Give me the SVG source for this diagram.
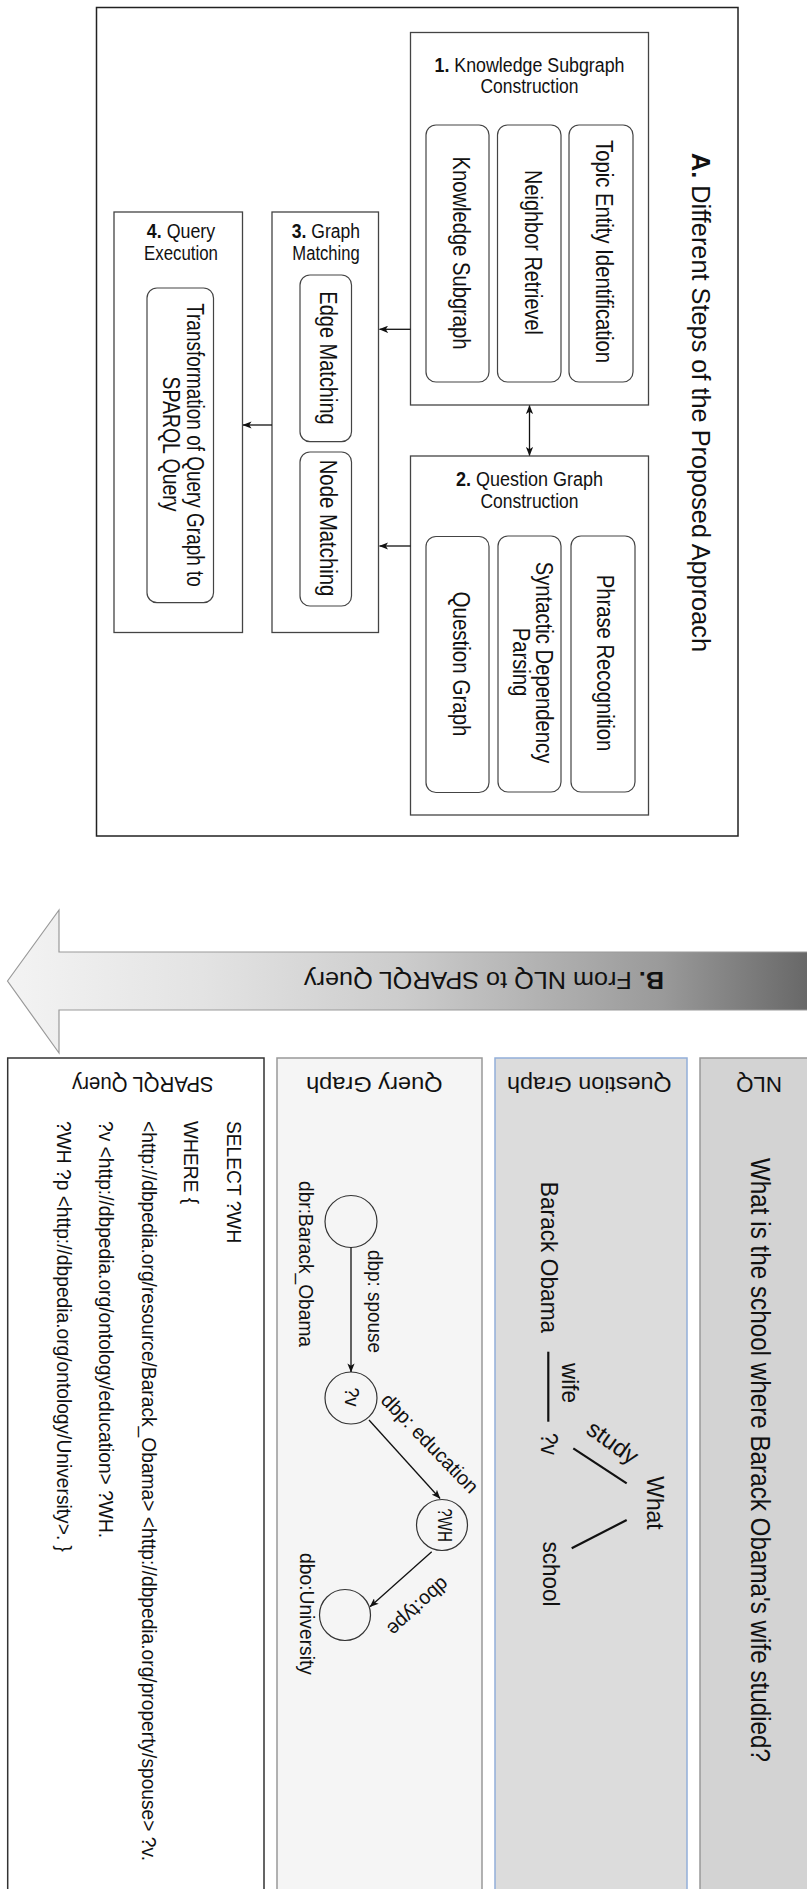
<svg xmlns="http://www.w3.org/2000/svg" width="807" height="1889" viewBox="0 0 807 1889">
  <defs>
    <style>
      text { font-family: "Liberation Sans", Arial, Helvetica, sans-serif; fill: #111; }
      .frame { fill: #fff; stroke: #222; stroke-width: 1.5; }
      .step { fill: #fff; stroke: #444; stroke-width: 1.3; }
      .task { fill: #fff; stroke: #444; stroke-width: 1.2; }
      .ttl { font-size: 20px; text-anchor: middle; }
      .lbl { font-size: 23px; text-anchor: middle; }
      .edge { fill: none; stroke: #111; stroke-width: 1.3; }
      .hdr { font-size: 21.5px; text-anchor: middle; }
      .qg { font-size: 20px; text-anchor: middle; }
      .node { fill: none; stroke: #333; stroke-width: 1.2; }
      .dep { stroke: #111; stroke-width: 2.2; }
      .word { font-size: 24px; text-anchor: middle; }
      .sparql { font-size: 19.2px; }
    </style>
    <marker id="arrow" viewBox="0 0 10 8" refX="9.5" refY="4" markerWidth="9" markerHeight="7.2"
            markerUnits="userSpaceOnUse" orient="auto-start-reverse">
      <path d="M0,0 L10,4 L0,8 L2.5,4 z" fill="#111"/>
    </marker>
    <linearGradient id="flow" gradientUnits="userSpaceOnUse" x1="0" y1="0" x2="807" y2="0">
      <stop offset="0" stop-color="#f4f4f4"/>
      <stop offset="0.25" stop-color="#e3e3e3"/>
      <stop offset="0.5" stop-color="#cccccc"/>
      <stop offset="0.82" stop-color="#9a9a9a"/>
      <stop offset="1" stop-color="#686868"/>
    </linearGradient>
  </defs>

  <!-- ===== Part A: pipeline steps ===== -->
  <g id="panel-a">
    <rect class="frame" x="96.5" y="7.5" width="641.5" height="828.5"/>
    <text transform="translate(691.5,402.5) rotate(90)" font-size="26" text-anchor="middle"
          textLength="499" lengthAdjust="spacingAndGlyphs"><tspan font-weight="bold">A.</tspan> Different Steps of the Proposed Approach</text>
  </g>

  <g id="step1">
    <rect class="step" x="410.5" y="32.5" width="238" height="372.5"/>
    <text class="ttl" x="529.5" y="72" textLength="190" lengthAdjust="spacingAndGlyphs"><tspan font-weight="bold">1.</tspan> Knowledge Subgraph</text>
    <text class="ttl" x="529.5" y="93" textLength="98" lengthAdjust="spacingAndGlyphs">Construction</text>
    <rect class="task" x="426" y="125" width="63" height="257" rx="10"/>
    <text class="lbl" transform="translate(453,253) rotate(90)" textLength="193" lengthAdjust="spacingAndGlyphs">Knowledge Subgraph</text>
    <rect class="task" x="497.5" y="125" width="63.5" height="257" rx="10"/>
    <text class="lbl" transform="translate(524.5,252.5) rotate(90)" textLength="165" lengthAdjust="spacingAndGlyphs">Neighbor Retrievel</text>
    <rect class="task" x="569" y="125" width="64" height="257" rx="10"/>
    <text class="lbl" transform="translate(596,251.5) rotate(90)" textLength="223" lengthAdjust="spacingAndGlyphs">Topic Entity Identification</text>
  </g>

  <g id="step2">
    <rect class="step" x="410.5" y="456" width="238" height="359"/>
    <text class="ttl" x="529.5" y="486" textLength="147" lengthAdjust="spacingAndGlyphs"><tspan font-weight="bold">2.</tspan> Question Graph</text>
    <text class="ttl" x="529.5" y="508" textLength="98" lengthAdjust="spacingAndGlyphs">Construction</text>
    <rect class="task" x="426" y="536.5" width="63" height="256" rx="10"/>
    <text class="lbl" transform="translate(453,664) rotate(90)" textLength="145" lengthAdjust="spacingAndGlyphs">Question Graph</text>
    <rect class="task" x="498" y="536" width="63" height="256" rx="10"/>
    <text class="lbl" transform="translate(536,662.5) rotate(90)" textLength="201.6" lengthAdjust="spacingAndGlyphs">Syntactic Dependency</text>
    <text class="lbl" transform="translate(513,662) rotate(90)" textLength="68.7" lengthAdjust="spacingAndGlyphs">Parsing</text>
    <rect class="task" x="571" y="536" width="64" height="256" rx="10"/>
    <text class="lbl" transform="translate(597,663) rotate(90)" textLength="176.7" lengthAdjust="spacingAndGlyphs">Phrase Recognition</text>
  </g>

  <g id="step3">
    <rect class="step" x="272" y="212" width="106.5" height="420.5"/>
    <text class="ttl" x="326" y="238" textLength="68.3" lengthAdjust="spacingAndGlyphs"><tspan font-weight="bold">3.</tspan> Graph</text>
    <text class="ttl" x="326" y="260" textLength="67.3" lengthAdjust="spacingAndGlyphs">Matching</text>
    <rect class="task" x="300" y="275" width="51.5" height="166.7" rx="10"/>
    <text class="lbl" transform="translate(320,358) rotate(90)" textLength="133.3" lengthAdjust="spacingAndGlyphs">Edge Matching</text>
    <rect class="task" x="300" y="452" width="51.5" height="154" rx="10"/>
    <text class="lbl" transform="translate(320,528) rotate(90)" textLength="136.7" lengthAdjust="spacingAndGlyphs">Node Matching</text>
  </g>

  <g id="step4">
    <rect class="step" x="114" y="212" width="128.5" height="420.5"/>
    <text class="ttl" x="181" y="238" textLength="68.3" lengthAdjust="spacingAndGlyphs"><tspan font-weight="bold">4.</tspan> Query</text>
    <text class="ttl" x="181" y="260" textLength="74" lengthAdjust="spacingAndGlyphs">Execution</text>
    <rect class="task" x="147" y="288" width="66.5" height="314.7" rx="10"/>
    <text class="lbl" transform="translate(186.5,445) rotate(90)" textLength="283.7" lengthAdjust="spacingAndGlyphs">Transformation of Query Graph to</text>
    <text class="lbl" transform="translate(163,444) rotate(90)" textLength="135" lengthAdjust="spacingAndGlyphs">SPARQL Query</text>
  </g>

  <g id="connectors-a">
    <path class="edge" d="M410.5,329.3 H379.5" marker-end="url(#arrow)"/>
    <path class="edge" d="M410.5,546 H379.5" marker-end="url(#arrow)"/>
    <path class="edge" d="M272,425 H243" marker-end="url(#arrow)"/>
    <path class="edge" d="M529.5,405.5 V455.5" marker-start="url(#arrow)" marker-end="url(#arrow)"/>
  </g>

  <!-- ===== Part B: from NLQ to SPARQL ===== -->
  <g id="flow-arrow">
    <path d="M7.5,981 L59,910 L59,952 L815,952 L815,1010 L59,1010 L59,1053 Z"
          fill="url(#flow)" stroke="#999" stroke-width="1.2"/>
    <text transform="translate(484,971.5) rotate(180)" font-size="23.5" text-anchor="middle"
          textLength="360" lengthAdjust="spacingAndGlyphs"><tspan font-weight="bold">B.</tspan> From NLQ to SPARQL Query</text>
  </g>

  <g id="col-sparql">
    <rect x="7.7" y="1058" width="256.3" height="840" fill="#fff" stroke="#333" stroke-width="1.5"/>
    <text class="hdr" transform="translate(142.8,1077) rotate(180)" textLength="141.6" lengthAdjust="spacingAndGlyphs">SPARQL Query</text>
    <!-- query lines: natural advance, glyphs stretched slightly across the line -->
    <g transform="translate(226.5,1121) rotate(90) scale(1,1.1)">
      <text class="sparql" x="0" y="0">SELECT ?WH</text>
      <text class="sparql" x="0" y="38.64">WHERE {</text>
      <text class="sparql" x="0" y="77.27">&lt;http://dbpedia.org/resource/Barack_Obama&gt; &lt;http://dbpedia.org/property/spouse&gt; ?v.</text>
      <text class="sparql" x="0" y="115.9">?v &lt;http://dbpedia.org/ontology/education&gt; ?WH.</text>
      <text class="sparql" x="0" y="154.5">?WH ?p &lt;http://dbpedia.org/ontology/University&gt;. }</text>
    </g>
  </g>

  <g id="col-query-graph">
    <rect x="277" y="1058" width="205" height="840" fill="#f5f5f5" stroke="#999" stroke-width="1.5"/>
    <text class="hdr" transform="translate(374.3,1077) rotate(180)" textLength="136.6" lengthAdjust="spacingAndGlyphs">Query Graph</text>
  </g>

  <g id="qg-barack">
    <circle class="node" cx="351" cy="1221.5" r="26"/>
    <text class="qg" transform="translate(298.5,1264) rotate(90)" textLength="166" lengthAdjust="spacingAndGlyphs">dbr:Barack_Obama</text>
  </g>
  <g id="qg-v">
    <circle class="node" cx="351" cy="1398" r="26"/>
    <text class="qg" font-size="18" transform="translate(345,1397) rotate(90)" textLength="19" lengthAdjust="spacingAndGlyphs">?v</text>
  </g>
  <g id="qg-wh">
    <circle class="node" cx="442" cy="1525" r="25.5"/>
    <text class="qg" font-size="16.5" transform="translate(438,1525) rotate(90)" textLength="33.7" lengthAdjust="spacingAndGlyphs">?WH</text>
  </g>
  <g id="qg-university">
    <circle class="node" cx="345" cy="1615" r="25.5"/>
    <text class="qg" transform="translate(299.5,1614) rotate(90)" textLength="122" lengthAdjust="spacingAndGlyphs">dbo:University</text>
  </g>

  <g id="connectors-qg">
    <path class="edge" stroke-width="1.1" d="M351,1247.5 V1372" marker-end="url(#arrow)"/>
    <path class="edge" stroke-width="1.1" d="M369,1420 L440,1498.5" marker-end="url(#arrow)"/>
    <path class="edge" stroke-width="1.1" d="M431.7,1551.7 L370,1606.7" marker-end="url(#arrow)"/>
    <text class="qg" transform="translate(368,1301.5) rotate(90)" textLength="103" lengthAdjust="spacingAndGlyphs">dbp: spouse</text>
    <text class="qg" transform="translate(425,1448) rotate(46)" textLength="130" lengthAdjust="spacingAndGlyphs">dbp: education</text>
    <text class="qg" transform="translate(413.6,1601.8) rotate(137.5)" textLength="75.7" lengthAdjust="spacingAndGlyphs">dbo:type</text>
  </g>

  <g id="col-question-graph">
    <rect x="495" y="1058" width="192" height="840" fill="#dcdcdc" stroke="#93afd9" stroke-width="1.5"/>
    <text class="hdr" transform="translate(589.3,1077) rotate(180)" textLength="164.6" lengthAdjust="spacingAndGlyphs">Question Graph</text>
    <text class="word" transform="translate(540.5,1257.5) rotate(90)" textLength="151.3" lengthAdjust="spacingAndGlyphs">Barack Obama</text>
    <line class="dep" x1="548.3" y1="1351.7" x2="548.3" y2="1421.7"/>
    <text class="word" transform="translate(562,1383) rotate(90)" textLength="40" lengthAdjust="spacingAndGlyphs">wife</text>
    <text class="word" transform="translate(541,1444) rotate(90)" textLength="22" lengthAdjust="spacingAndGlyphs">?v</text>
    <line class="dep" x1="573.3" y1="1448.3" x2="626.7" y2="1483.3"/>
    <text class="word" transform="translate(608,1449) rotate(35.5)" textLength="57" lengthAdjust="spacingAndGlyphs">study</text>
    <text class="word" transform="translate(647,1503) rotate(90)" textLength="53.3" lengthAdjust="spacingAndGlyphs">What</text>
    <line class="dep" x1="626.7" y1="1520" x2="571.7" y2="1548.3"/>
    <text class="word" transform="translate(543,1574) rotate(90)" textLength="65" lengthAdjust="spacingAndGlyphs">school</text>
  </g>

  <g id="col-nlq">
    <rect x="700" y="1058" width="120" height="840" fill="#d3d3d3" stroke="#999" stroke-width="1.5"/>
    <text class="hdr" transform="translate(759,1077) rotate(180)" textLength="46" lengthAdjust="spacingAndGlyphs">NLQ</text>
    <text transform="translate(751,1460) rotate(90)" font-size="27.5" text-anchor="middle"
          textLength="604" lengthAdjust="spacingAndGlyphs">What is the school where Barack Obama's wife studied?</text>
  </g>
</svg>
